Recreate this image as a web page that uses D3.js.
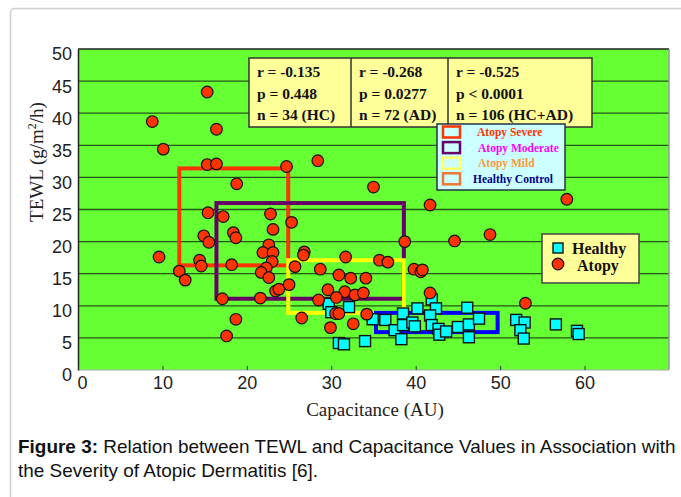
<!DOCTYPE html>
<html><head><meta charset="utf-8">
<script src="https://cdn.jsdelivr.net/npm/d3@7"></script>
<style>body{margin:0;background:#fff}svg{display:block}</style>
</head><body><svg id="c" width="681" height="497"></svg>
<script>
// ---- data ----
const atopyX = [8.8,10.1,15.3,16.4,15.3,16.4,18.8,24.7,28.4,35.0,15.4,17.2,22.8,25.3,23.1,18.4,18.7,14.9,15.5,9.6,14.4,14.6,12.0,12.7,18.2,22.6,21.9,23.1,23.0,22.3,21.7,22.6,23.4,23.8,21.6,17.1,18.7,17.6,26.8,26.7,25.7,25.0,28.7,31.7,30.9,32.3,34.1,29.6,31.6,32.8,33.8,30.6,28.5,26.5,30.5,30.9,34.2,29.9,32.6,35.7,36.7,38.7,39.8,40.6,40.8,41.7,44.6,48.8,41.7,53.0,57.9];
const atopyY = [38.7,34.4,43.3,37.5,32.0,32.1,29.0,31.7,32.6,28.5,24.5,23.9,24.3,23.0,21.9,21.4,20.6,20.9,19.9,17.6,17.1,16.2,15.4,14.0,16.4,19.5,18.3,18.3,16.9,15.9,15.2,14.4,12.3,12.6,11.2,11.1,7.9,5.3,18.4,17.9,16.1,13.3,15.7,17.6,14.8,14.3,14.3,12.5,12.2,11.7,12.0,11.3,10.9,8.1,8.8,8.8,8.7,6.6,7.2,17.1,16.8,20.0,15.7,15.3,15.6,25.7,20.1,21.1,12.0,10.4,26.6];
const healthyX = [29.7,30.0,32.1,30.9,31.5,34.0,34.9,36.4,37.5,38.3,38.5,38.5,39.6,39.9,40.2,41.9,42.4,41.7,41.9,42.7,42.8,43.6,45.0,46.1,46.3,46.3,47.5,51.9,52.9,52.4,52.8,56.6,59.1,59.3];
const healthyY = [10.3,9.0,9.8,4.2,4.0,4.5,7.9,7.8,6.2,4.8,8.8,7.0,7.4,6.8,9.6,11.0,9.6,8.5,7.0,6.4,5.5,6.0,6.7,9.7,7.1,5.1,8.0,7.8,7.4,6.2,4.9,7.1,6.1,5.6];
const xTicks = [0,10,20,30,40,50,60];
const yTicks = [0,5,10,15,20,25,30,35,40,45,50];
const gridValues = [5,10,15,20,25,30,35,40,45];
const severityNames = ["Atopy Severe","Atopy Moderate","Atopy Mild","Healthy Control"];
const severityX0 = [12.0,16.4,24.9,35.3];
const severityX1 = [24.9,38.6,38.6,49.7];
const severityY0 = [16.3,11.1,8.9,5.9];
const severityY1 = [31.4,26.0,17.1,8.9];
const statsCols = [["r = -0.135","p = 0.448","n = 34 (HC)"],["r = -0.268","p = 0.0277","n = 72 (AD)"],["r = -0.525","p < 0.0001","n = 106 (HC+AD)"]];
const groupNames = ["Healthy","Atopy"];

// ---- drawing ----
const svg = d3.select("#c");
const x = d3.scaleLinear().domain([0,70]).range([78,669]);
const y = d3.scaleLinear().domain([0,50]).range([370,49]);

// figure frame
svg.append("rect").attr("x",10.5).attr("y",8.5).attr("width",680).attr("height",500)
  .attr("rx",4).attr("fill","none").attr("stroke","#cfcfcf").attr("stroke-width",1.5);

// plot background
svg.append("rect").attr("x",x(0)).attr("y",y(50)).attr("width",x(70)-x(0)).attr("height",y(0)-y(50))
  .attr("fill","#66ff33");

// gridlines
svg.append("g").selectAll("line").data(gridValues).join("line")
  .attr("x1",x(0)).attr("x2",x(70)).attr("y1",d=>y(d)).attr("y2",d=>y(d))
  .attr("stroke","#24561a").attr("stroke-width",1.3);

// borders
svg.append("line").attr("x1",x(0)).attr("x2",x(70)).attr("y1",y(50)).attr("y2",y(50)).attr("stroke","#222").attr("stroke-width",1.5);
svg.append("line").attr("x1",x(70)).attr("x2",x(70)).attr("y1",y(50)).attr("y2",y(0)).attr("stroke","#999").attr("stroke-width",1.5);
svg.append("line").attr("x1",x(0)).attr("x2",x(70)).attr("y1",y(0)).attr("y2",y(0)).attr("stroke","#aaa").attr("stroke-width",1);

// axes
const yAxis = svg.append("g").attr("transform",`translate(${x(0)},0)`)
  .call(d3.axisLeft(y).tickValues(yTicks).tickSize(0).tickPadding(6));
yAxis.select(".domain").attr("stroke","#222").attr("stroke-width",1.5);
yAxis.selectAll("text").attr("dy","0.61em").attr("font-family","Liberation Sans, Arial, sans-serif")
  .attr("font-size",18).attr("fill","#222");

const xAxis = svg.append("g").attr("transform",`translate(0,${y(0)})`)
  .call(d3.axisBottom(x).tickValues(xTicks).tickSizeInner(-4).tickSizeOuter(0).tickPadding(6));
xAxis.select(".domain").remove();
xAxis.selectAll(".tick line").attr("stroke","#333");
xAxis.selectAll("text").attr("font-family","Liberation Sans, Arial, sans-serif")
  .attr("font-size",18).attr("fill","#222").attr("dx",d=>d===0?4:0);

// axis titles
svg.append("text").attr("x",375).attr("y",416).attr("text-anchor","middle")
  .attr("font-family","Liberation Serif, Times New Roman, serif").attr("font-size",19).attr("fill","#222")
  .text("Capacitance (AU)");
const yt = svg.append("text").attr("transform","translate(43,162) rotate(-90)").attr("text-anchor","middle")
  .attr("font-family","Liberation Serif, Times New Roman, serif").attr("font-size",19).attr("fill","#222");
yt.append("tspan").text("TEWL (g/m");
yt.append("tspan").attr("font-size",12).attr("dy",-7).text("2");
yt.append("tspan").attr("dy",7).text("/h)");

// severity rectangles
const sevColors = ["#ff3300","#660066","#ffff00","#0000ff"];
svg.append("g").selectAll("rect").data(severityNames).join("rect")
  .attr("x",(d,i)=>x(severityX0[i])).attr("y",(d,i)=>y(severityY1[i]))
  .attr("width",(d,i)=>x(severityX1[i])-x(severityX0[i]))
  .attr("height",(d,i)=>y(severityY0[i])-y(severityY1[i]))
  .attr("fill","none").attr("stroke",(d,i)=>sevColors[i]).attr("stroke-width",4);

// points
const atopy = atopyX.map((v,i)=>[v,atopyY[i]]);
const healthy = healthyX.map((v,i)=>[v,healthyY[i]]);
svg.append("g").selectAll("rect").data(healthy).join("rect")
  .attr("x",d=>x(d[0])-5.5).attr("y",d=>y(d[1])-5.5).attr("width",11).attr("height",11)
  .attr("fill","#00ffff").attr("stroke","#111").attr("stroke-width",1.4);
svg.append("g").selectAll("circle").data(atopy).join("circle")
  .attr("cx",d=>x(d[0])).attr("cy",d=>y(d[1])).attr("r",5.8)
  .attr("fill","#ff3300").attr("stroke","#111").attr("stroke-width",1.2);

// stats box
const sb = svg.append("g");
const colX = [249,351,448,592];
sb.append("rect").attr("x",colX[0]).attr("y",58).attr("width",colX[3]-colX[0]).attr("height",69)
  .attr("fill","#ffff99").attr("stroke","#333").attr("stroke-width",1.5);
sb.selectAll("line.div").data([1,2]).join("line").attr("class","div")
  .attr("x1",i=>colX[i]).attr("x2",i=>colX[i]).attr("y1",58).attr("y2",127).attr("stroke","#333").attr("stroke-width",1.5);
statsCols.forEach((col,ci)=>{
  col.forEach((t,ri)=>{
    sb.append("text").attr("x",colX[ci]+8).attr("y",77+ri*21.5)
      .attr("font-family","Liberation Serif, Times New Roman, serif").attr("font-weight","bold")
      .attr("font-size",15.5).attr("fill","#111").text(t);
  });
});

// severity legend
const lg = svg.append("g");
lg.append("rect").attr("x",437).attr("y",124).attr("width",128).attr("height",66)
  .attr("fill","#ccffff").attr("stroke","#223344").attr("stroke-width",1.5);
const swColors = ["#ff3300","#660066","#ffff66","#ee7733"];
const txtColors = ["#ff3300","#ff00ff","#ff9933","#000088"];
const txtX = [477,478,478,473];
severityNames.forEach((n,i)=>{
  const cy = 132+i*15.6;
  lg.append("rect").attr("x",443).attr("y",cy-5.5).attr("width",17).attr("height",11)
    .attr("fill","none").attr("stroke",swColors[i]).attr("stroke-width",2.5);
  lg.append("text").attr("x",txtX[i]).attr("y",cy+4).attr("font-family","Liberation Serif, Times New Roman, serif")
    .attr("font-weight","bold").attr("font-size",11.5).attr("fill",txtColors[i]).text(n);
});

// group legend
const gl = svg.append("g");
gl.append("rect").attr("x",542).attr("y",234).attr("width",97).attr("height",49)
  .attr("fill","#ffff99").attr("stroke","#444").attr("stroke-width",1.5);
gl.append("rect").attr("x",553).attr("y",243).attr("width",10).attr("height",10)
  .attr("fill","#00ffff").attr("stroke","#111").attr("stroke-width",1.4);
gl.append("circle").attr("cx",558).attr("cy",264).attr("r",5.8)
  .attr("fill","#ff3300").attr("stroke","#111").attr("stroke-width",1.2);
gl.append("text").attr("x",572).attr("y",254).attr("font-family","Liberation Serif, Times New Roman, serif")
  .attr("font-weight","bold").attr("font-size",16).attr("fill","#111").text(groupNames[0]);
gl.append("text").attr("x",577).attr("y",271).attr("font-family","Liberation Serif, Times New Roman, serif")
  .attr("font-weight","bold").attr("font-size",16).attr("fill","#111").text(groupNames[1]);

// caption
const cap1 = svg.append("text").attr("x",18).attr("y",453).attr("font-family","Liberation Sans, Arial, sans-serif")
  .attr("font-size",18.95).attr("fill","#111");
cap1.append("tspan").attr("font-weight","bold").text("Figure 3:");
cap1.append("tspan").text(" Relation between TEWL and Capacitance Values in Association with");
svg.append("text").attr("x",18).attr("y",477).attr("font-family","Liberation Sans, Arial, sans-serif")
  .attr("font-size",18.95).attr("fill","#111").text("the Severity of Atopic Dermatitis [6].");
</script></body></html>
